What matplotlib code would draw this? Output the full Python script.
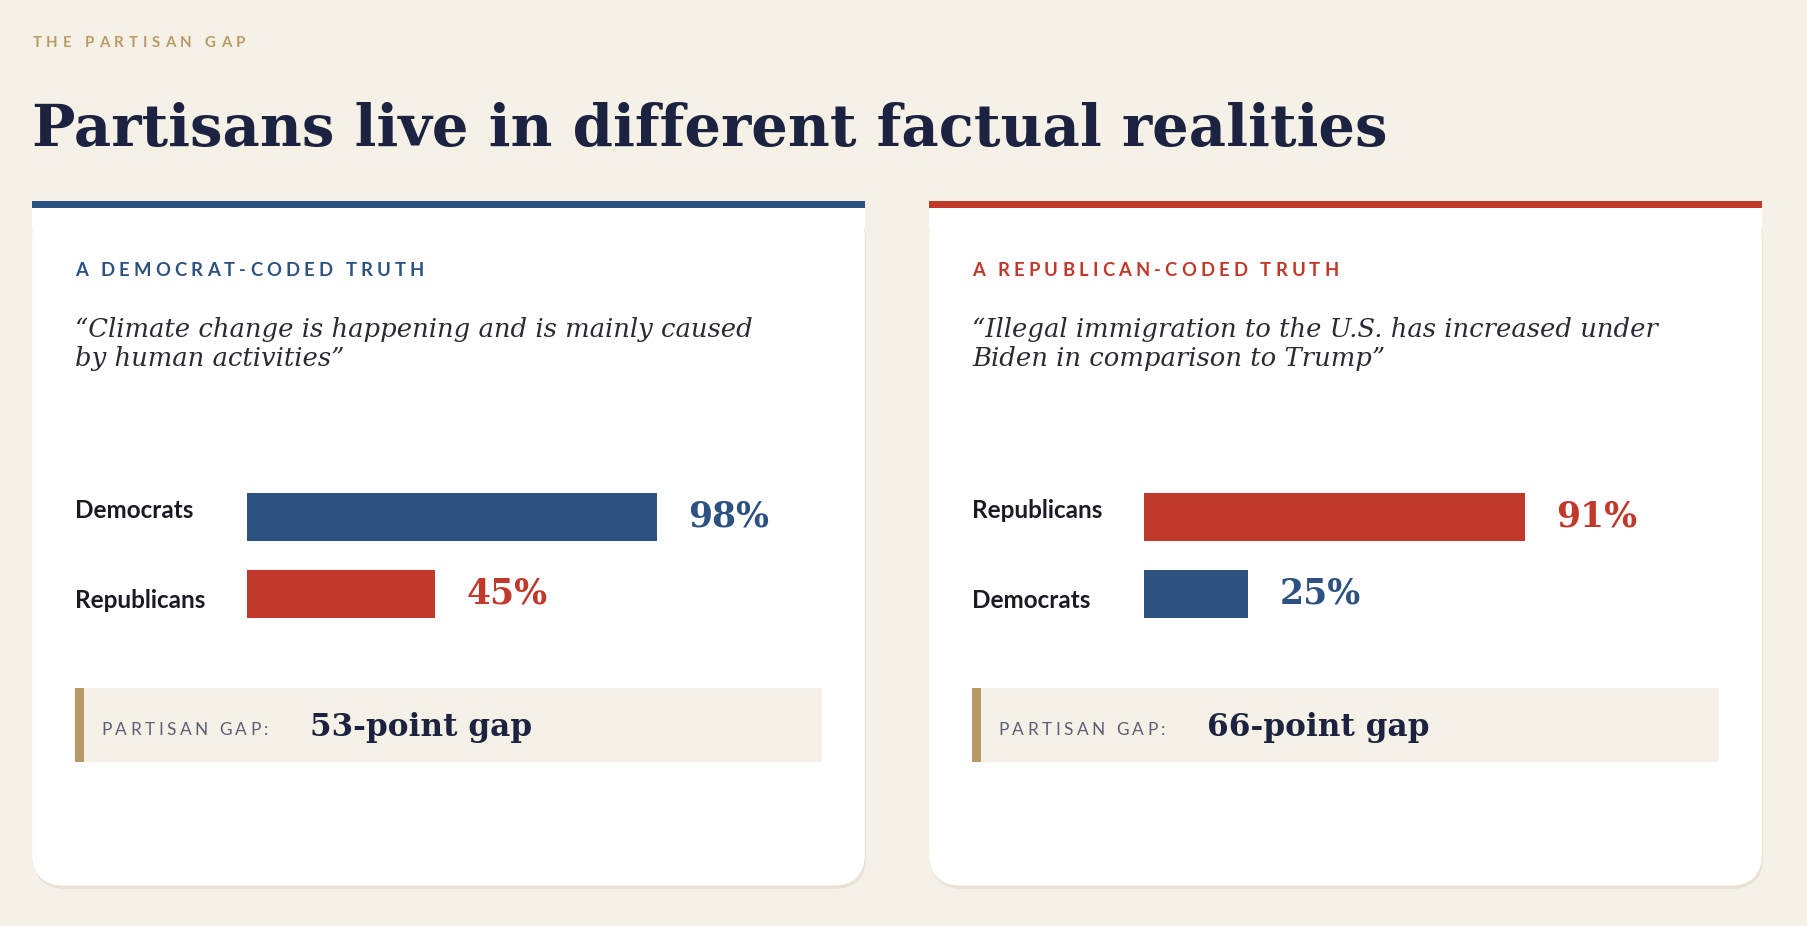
import matplotlib
matplotlib.use("Agg")
import matplotlib.pyplot as plt
from matplotlib.patches import FancyBboxPatch, Rectangle

# data
kicker = "THE PARTISAN GAP"
title = "Partisans live in different factual realities"
panel_tags = ["A DEMOCRAT-CODED TRUTH", "A REPUBLICAN-CODED TRUTH"]
quotes = [
    "\u201cClimate change is happening and is mainly caused\nby human activities\u201d",
    "\u201cIllegal immigration to the U.S. has increased under\nBiden in comparison to Trump\u201d",
]
groups = [["Democrats", "Republicans"], ["Republicans", "Democrats"]]
values = [[98, 45], [91, 25]]
gaps = [53, 66]

BG = "#f6f1e7"
BLUE = "#2d5282"
RED = "#c0392b"
GOLD = "#b89a66"
NAVY = "#1c2340"
W, H = 1568, 803
S = 1808 / W

fig = plt.figure(figsize=(18.08, 9.26), dpi=100, facecolor=BG)
ax = fig.add_axes([0, 0, 1, 1])
ax.set_xlim(0, W)
ax.set_ylim(H, 0)
ax.axis("off")
renderer = fig.canvas.get_renderer()


def pt(px):
    return px * S * 0.72


def tracked(x, y, s, spacing, **kw):
    # draw letter-spaced text char by char
    for ch in s:
        t = ax.text(x, y, ch, va="center", ha="left", **kw)
        bb = t.get_window_extent(renderer)
        x += bb.width / S + spacing
        if ch == " ":
            x += 0


tracked(28, 37, kicker, 4.2, fontsize=pt(13), color=GOLD, family="Lato", weight="bold")
ax.text(28, 113, title, fontsize=pt(50), color=NAVY, family="DejaVu Serif", weight="bold", va="center")

for i, x0 in enumerate([28, 806]):
    col = [BLUE, RED][i]
    # shadow + card
    ax.add_patch(FancyBboxPatch((x0 + 1, 181), 722, 590, boxstyle="round,pad=0,rounding_size=28",
                                fc="#e9e3d6", ec="none", zorder=1))
    ax.add_patch(FancyBboxPatch((x0, 178), 722, 590, boxstyle="round,pad=0,rounding_size=28",
                                fc="white", ec="none", zorder=2))
    ax.add_patch(Rectangle((x0, 174), 722, 6, fc=col, ec="none", zorder=3))
    ax.add_patch(Rectangle((x0, 178), 722, 20, fc="white", ec="none", zorder=2))
    tracked(x0 + 37, 235, panel_tags[i], 3.6, fontsize=pt(16), color=col, family="Lato",
            weight="bold", zorder=4)
    ax.text(x0 + 37, 298, quotes[i], fontsize=pt(22.5), color="#2a2a35", family="DejaVu Serif",
            style="italic", va="center", linespacing=1.2, zorder=4)

    # bars via inset axes: 0..100 maps to 363 px starting at x0+186
    bx = (x0 + 186) / W
    bax = fig.add_axes([bx, 1 - 555 / H, 363 / W, (555 - 408) / H], zorder=5)
    bax.set_xlim(0, 100)
    bax.set_ylim(1.6, -0.6)
    bax.axis("off")
    cols = [col, BLUE if col == RED else RED]
    bax.barh([0, 1], values[i], height=0.62, color=cols)
    for j, (g, v) in enumerate(zip(groups[i], values[i])):
        bax.text(-11.5, j, g, ha="left", va="center", fontsize=pt(21), family="Lato",
                 weight="bold", color="#1a1a24", clip_on=False, transform=bax.transData) \
            if False else None
        ax.text(x0 + 37, 443 + j * 78, g, ha="left", va="center", fontsize=pt(21),
                family="Lato", weight="bold", color="#1a1a24", zorder=6)
        bax.text(v + 7.5, j, f"{v}%", ha="left", va="center", fontsize=pt(30),
                 family="DejaVu Serif", weight="bold", color=cols[j], clip_on=False)

    # gap box
    ax.add_patch(Rectangle((x0 + 37, 597), 648, 64, fc=BG, ec="none", zorder=4))
    ax.add_patch(Rectangle((x0 + 37, 597), 8, 64, fc=GOLD, ec="none", zorder=5))
    tracked(x0 + 60, 633, "PARTISAN GAP:", 3.0, fontsize=pt(15), color="#5a5f75",
            family="Lato", zorder=6)
    ax.text(x0 + 241, 631, f"{gaps[i]}-point gap", fontsize=pt(27), family="DejaVu Serif",
            weight="bold", color=NAVY, va="center", zorder=6)

fig.savefig("out.png", dpi=100, facecolor=BG)
